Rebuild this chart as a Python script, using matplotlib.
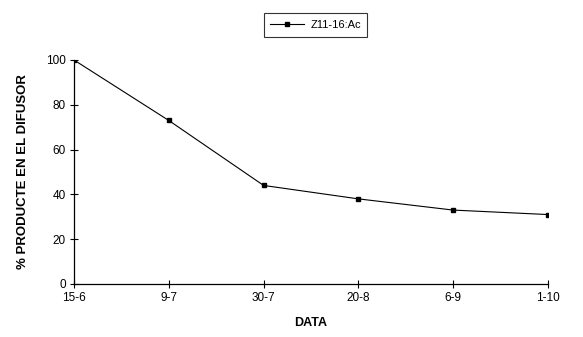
import matplotlib.pyplot as plt

plt.rcParams['font.family'] = ['Liberation Sans', 'DejaVu Sans']

dates = ["15-6", "9-7", "30-7", "20-8", "6-9", "1-10"]
pct = [100, 73, 44, 38, 33, 31]

fig = plt.figure(figsize=(5.83, 3.37), dpi=100)
ax = fig.add_axes([74 / 583, 53 / 337, 474 / 583, 224 / 337])

x = list(range(len(dates)))
ax.plot(x, pct, color='black', lw=0.8, marker='s', ms=3.5, label='Z11-16:Ac')

ax.set_xlim(0, len(dates) - 1)
ax.set_ylim(0, 100)
ax.set_xticks(x)
ax.set_xticklabels(dates)
ax.set_yticks(range(0, 101, 20))
ax.tick_params(direction='inout', length=6, width=0.8, labelsize=8.5, pad=3)
for s in ['top', 'right']:
    ax.spines[s].set_visible(False)
for s in ['left', 'bottom']:
    ax.spines[s].set_linewidth(0.9)

ax.set_xlabel("DATA", fontsize=9, fontweight='bold', labelpad=9)
ax.set_ylabel("% PRODUCTE EN EL DIFUSOR", fontsize=9.5, fontweight='bold', labelpad=12)

leg = ax.legend(loc='center', bbox_to_anchor=(315.5 / 583, 1 - 25 / 337),
                bbox_transform=fig.transFigure, fontsize=8, frameon=True,
                fancybox=False, edgecolor='black', handlelength=3,
                borderpad=0.6, handletextpad=0.6, borderaxespad=0)
leg.get_frame().set_linewidth(0.8)

fig.savefig("out.png", dpi=100)
